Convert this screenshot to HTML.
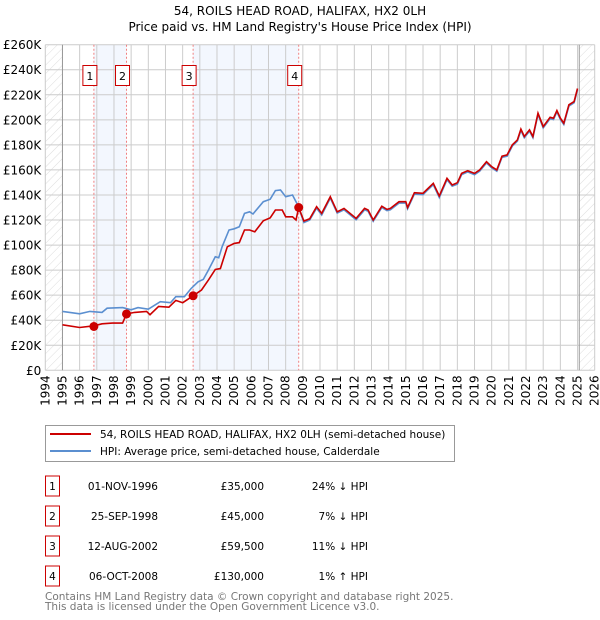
<!DOCTYPE html>
<html><head><meta charset="utf-8"><style>
body{margin:0;background:#fff;font-family:"DejaVu Sans","Liberation Sans",sans-serif;}
svg{display:block}
</style></head><body>
<svg id="c" width="600" height="620" xmlns="http://www.w3.org/2000/svg">
<defs><pattern id="hatch" width="6" height="6" patternUnits="userSpaceOnUse" patternTransform="rotate(45)"><line x1="0" y1="0" x2="0" y2="6" stroke="#ddd" stroke-width="1"/></pattern></defs>
<text x="300" y="15" text-anchor="middle" font-size="12">54, ROILS HEAD ROAD, HALIFAX, HX2 0LH</text>
<text x="300" y="31" text-anchor="middle" font-size="12">Price paid vs. HM Land Registry's House Price Index (HPI)</text>
<g id="plot"></g>
<g>
<rect x="45.5" y="425.5" width="409" height="36" fill="#fff" stroke="#999"/>
<line x1="50" y1="434" x2="91" y2="434" stroke="#cc0000" stroke-width="2"/>
<text x="100" y="438" font-size="10.5">54, ROILS HEAD ROAD, HALIFAX, HX2 0LH (semi-detached house)</text>
<line x1="50" y1="451" x2="91" y2="451" stroke="#5b8fd0" stroke-width="2"/>
<text x="100" y="455" font-size="10.5">HPI: Average price, semi-detached house, Calderdale</text>
</g>
<g id="tbl" font-size="10.5"></g>
<text x="45" y="600" font-size="10.5" fill="#777">Contains HM Land Registry data © Crown copyright and database right 2025.</text>
<text x="45" y="610" font-size="10.5" fill="#777">This data is licensed under the Open Government Licence v3.0.</text>
</svg>
<script>
const yearTicks=[1994,1995,1996,1997,1998,1999,2000,2001,2002,2003,2004,2005,2006,2007,2008,2009,2010,2011,2012,2013,2014,2015,2016,2017,2018,2019,2020,2021,2022,2023,2024,2025,2026];
const valueTicks=[0,20,40,60,80,100,120,140,160,180,200,220,240,260];
const hpiYears=[1995.0,1996.0,1996.6,1997.3,1997.6,1998.5,1999.0,1999.4,2000.0,2000.7,2001.3,2001.6,2002.1,2002.5,2002.9,2003.2,2003.5,2003.9,2004.1,2004.3,2004.7,2005.0,2005.3,2005.6,2005.9,2006.1,2006.7,2007.1,2007.4,2007.7,2008.0,2008.4,2008.7,2009.06,2009.4,2009.8,2010.1,2010.6,2011.0,2011.4,2012.1,2012.6,2012.8,2013.1,2013.6,2013.9,2014.1,2014.6,2015.0,2015.1,2015.5,2016.0,2016.2,2016.6,2016.95,2017.4,2017.7,2018.0,2018.25,2018.6,2019.0,2019.3,2019.7,2020.0,2020.3,2020.6,2020.9,2021.2,2021.5,2021.7,2021.9,2022.2,2022.4,2022.7,2023.0,2023.4,2023.6,2023.8,2024.0,2024.2,2024.5,2024.8,2025.0];
const hpiValues=[47.0,45.1,47,46.2,49.6,50.1,48.3,50.1,48.8,54.8,54,58.8,58.8,65.4,70.7,72.6,80,90.7,89.8,98.6,112,113,114.6,125.3,126.6,124.8,134.6,136.6,143.5,144,138.6,140,132,118,120,129.5,124,137.5,125.5,128.2,120.2,128.2,127,119,130,127.5,128.2,133.5,133.5,129,140.7,140.2,143,148.2,138,152.2,147,148.7,156.2,158.4,156.2,159,165.6,161.6,159,170,171,179,183,191.6,185.7,191,185.7,204.3,193.6,201,200.3,206.4,200.3,196.3,211,213.6,224];
const paidYears=[1995.0,1996.0,1996.83,1997.3,1997.9,1998.5,1998.73,1999.2,1999.9,2000.1,2000.6,2001.2,2001.6,2002.0,2002.61,2003.1,2003.5,2003.9,2004.2,2004.6,2005.0,2005.3,2005.6,2005.9,2006.2,2006.7,2007.1,2007.4,2007.8,2008.0,2008.4,2008.6,2008.76,2009.06,2009.4,2009.8,2010.1,2010.6,2011.0,2011.4,2012.1,2012.6,2012.8,2013.1,2013.6,2013.9,2014.1,2014.6,2015.0,2015.1,2015.5,2016.0,2016.2,2016.6,2016.95,2017.4,2017.7,2018.0,2018.25,2018.6,2019.0,2019.3,2019.7,2020.0,2020.3,2020.6,2020.9,2021.2,2021.5,2021.7,2021.9,2022.2,2022.4,2022.7,2023.0,2023.4,2023.6,2023.8,2024.0,2024.2,2024.5,2024.8,2025.0];
const paidValues=[36.3,34.2,35.5,37.1,37.7,37.7,45,46.2,47,44.4,51,50.4,55.8,54,59.5,64.1,72,80.5,81.3,98.6,101.3,102,112,112,110.6,119.4,121.8,128,128,122.6,122.6,120,130,119.2,121,130.6,125.3,138.6,126.6,129.3,121.3,129.3,128,120,131,128.5,129.3,134.6,134.6,130,141.8,141.3,144,149.3,139.2,153.3,148,149.8,157.2,159.4,157.2,160,166.6,162.6,160,171,172,180,184,192.6,186.7,192,186.7,205.3,194.6,202,201.3,207.4,201.3,197.3,212,214.6,225];
const saleLabels=["1","2","3","4"];
const saleYears=[1996.83,1998.73,2002.61,2008.76];
const salePrices=[35,45,59.5,130];
const saleDates=["01-NOV-1996","25-SEP-1998","12-AUG-2002","06-OCT-2008"];
const salePriceText=["£35,000","£45,000","£59,500","£130,000"];
const saleHpiText=["24% ↓ HPI","7% ↓ HPI","11% ↓ HPI","1% ↑ HPI"];

const NS="http://www.w3.org/2000/svg";
const L=45.3,R=594.7,T=44.7,B=370.3;
const x=y=>L+(y-1994)*(R-L)/32;
const yv=v=>B-v*(B-T)/260;
const g=document.getElementById('plot');
function mk(tag,at,parent){const e=document.createElementNS(NS,tag);for(const k in at)e.setAttribute(k,at[k]);(parent||g).appendChild(e);return e;}
let e;
e=mk('rect',{x:x(saleYears[0]),y:T,width:x(saleYears[1])-x(saleYears[0]),height:B-T,fill:'#f3f7fe'});


e=mk('rect',{x:x(saleYears[2]),y:T,width:x(saleYears[3])-x(saleYears[2]),height:B-T,fill:'#f3f7fe'});


e=mk('rect',{x:L,y:T,width:x(1995)-L,height:B-T,fill:'url(#hatch)'});


e=mk('rect',{x:x(2025.1),y:T,width:R-x(2025.1),height:B-T,fill:'url(#hatch)'});


yearTicks.forEach(t=>{
 e=mk('line',{x1:x(t),x2:x(t),y1:T,y2:B,stroke:'#ccc','stroke-width':1});
 
 
 e=mk('text',{x:0,y:0,transform:`translate(${x(t)+4},${B+5}) rotate(-90)`,'text-anchor':'end','font-size':12});
 e.textContent=t;
 
 
});
valueTicks.forEach(t=>{
 e=mk('line',{x1:L,x2:R,y1:yv(t),y2:yv(t),stroke:'#ccc','stroke-width':1});
 
 
 e=mk('text',{x:L-4,y:yv(t)+4.5,'text-anchor':'end','font-size':12});
 e.textContent=t===0?'£0':'£'+t+'K';
 
 
});
e=mk('line',{x1:x(1995),x2:x(1995),y1:T,y2:B,stroke:'#999'});


e=mk('line',{x1:x(2025.1),x2:x(2025.1),y1:T,y2:B,stroke:'#999'});


saleYears.forEach((s,i)=>{
 e=mk('line',{x1:x(s),x2:x(s),y1:T,y2:B,stroke:'#f08080','stroke-dasharray':'2,2'});
 
 
 e=mk('rect',{x:x(s)-11,y:65.5,width:14,height:20,fill:'#fff',stroke:'#cc0000'});
 
 
 e=mk('text',{x:x(s)-4,y:80,'text-anchor':'middle','font-size':11});
 e.textContent=saleLabels[i];
 
 
});
const path=(xs,vs)=>xs.map((t,i)=>(i?'L':'M')+x(t).toFixed(1)+','+yv(vs[i]).toFixed(1)).join('');
e=mk('path',{d:path(hpiYears,hpiValues),fill:'none',stroke:'#5b8fd0','stroke-width':1.6});


e=mk('path',{d:path(paidYears,paidValues),fill:'none',stroke:'#cc0000','stroke-width':1.6});


saleYears.forEach((s,i)=>{
 e=mk('circle',{cx:x(s),cy:yv(salePrices[i]),r:4.5,fill:'#cc0000'});
 
 
});
const tb=document.getElementById('tbl');
saleLabels.forEach((l,i)=>{
 const cy=486+i*30;
 e=mk('rect',{x:45.5,y:cy-10,width:14,height:20,fill:'#fff',stroke:'#cc0000'},tb);
 
 
 e=mk('text',{x:52.5,y:cy+4,'text-anchor':'middle'},tb);e.textContent=l;
 
 
 e=mk('text',{x:158,y:cy+4,'text-anchor':'end'},tb);e.textContent=saleDates[i];
 
 
 e=mk('text',{x:264,y:cy+4,'text-anchor':'end'},tb);e.textContent=salePriceText[i];
 
 
 e=mk('text',{x:368,y:cy+4,'text-anchor':'end'},tb);e.textContent=saleHpiText[i];
 
 
});
</script>
</body></html>
